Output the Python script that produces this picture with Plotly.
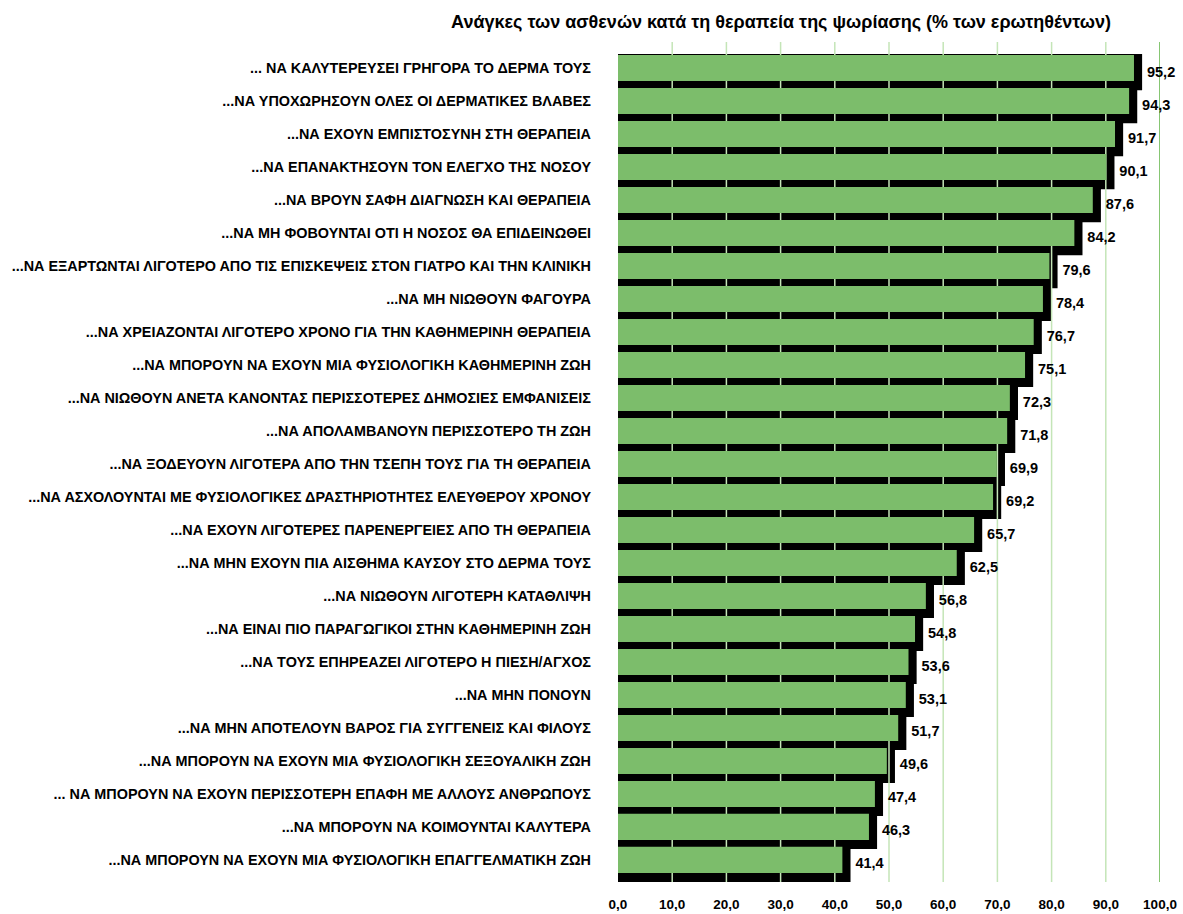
import plotly.graph_objects as go

categories = [
    "... ΝΑ ΚΑΛΥΤΕΡΕΥΣΕΙ ΓΡΗΓΟΡΑ ΤΟ ΔΕΡΜΑ ΤΟΥΣ",
    "...ΝΑ ΥΠΟΧΩΡΗΣΟΥΝ ΟΛΕΣ ΟΙ ΔΕΡΜΑΤΙΚΕΣ ΒΛΑΒΕΣ",
    "...ΝΑ ΕΧΟΥΝ ΕΜΠΙΣΤΟΣΥΝΗ ΣΤΗ ΘΕΡΑΠΕΙΑ",
    "...ΝΑ ΕΠΑΝΑΚΤΗΣΟΥΝ ΤΟΝ ΕΛΕΓΧΟ ΤΗΣ ΝΟΣΟΥ",
    "...ΝΑ ΒΡΟΥΝ ΣΑΦΗ ΔΙΑΓΝΩΣΗ ΚΑΙ ΘΕΡΑΠΕΙΑ",
    "...ΝΑ ΜΗ ΦΟΒΟΥΝΤΑΙ ΟΤΙ Η ΝΟΣΟΣ ΘΑ ΕΠΙΔΕΙΝΩΘΕΙ",
    "...ΝΑ ΕΞΑΡΤΩΝΤΑΙ ΛΙΓΟΤΕΡΟ ΑΠΟ ΤΙΣ ΕΠΙΣΚΕΨΕΙΣ ΣΤΟΝ ΓΙΑΤΡΟ ΚΑΙ ΤΗΝ ΚΛΙΝΙΚΗ",
    "...ΝΑ ΜΗ ΝΙΩΘΟΥΝ ΦΑΓΟΥΡΑ",
    "...ΝΑ ΧΡΕΙΑΖΟΝΤΑΙ ΛΙΓΟΤΕΡΟ ΧΡΟΝΟ ΓΙΑ ΤΗΝ ΚΑΘΗΜΕΡΙΝΗ ΘΕΡΑΠΕΙΑ",
    "...ΝΑ ΜΠΟΡΟΥΝ ΝΑ ΕΧΟΥΝ ΜΙΑ ΦΥΣΙΟΛΟΓΙΚΗ ΚΑΘΗΜΕΡΙΝΗ ΖΩΗ",
    "...ΝΑ ΝΙΩΘΟΥΝ ΑΝΕΤΑ ΚΑΝΟΝΤΑΣ ΠΕΡΙΣΣΟΤΕΡΕΣ ΔΗΜΟΣΙΕΣ ΕΜΦΑΝΙΣΕΙΣ",
    "...ΝΑ ΑΠΟΛΑΜΒΑΝΟΥΝ ΠΕΡΙΣΣΟΤΕΡΟ ΤΗ ΖΩΗ",
    "...ΝΑ ΞΟΔΕΥΟΥΝ ΛΙΓΟΤΕΡΑ ΑΠΟ ΤΗΝ ΤΣΕΠΗ ΤΟΥΣ ΓΙΑ ΤΗ ΘΕΡΑΠΕΙΑ",
    "...ΝΑ ΑΣΧΟΛΟΥΝΤΑΙ ΜΕ ΦΥΣΙΟΛΟΓΙΚΕΣ ΔΡΑΣΤΗΡΙΟΤΗΤΕΣ ΕΛΕΥΘΕΡΟΥ ΧΡΟΝΟΥ",
    "...ΝΑ ΕΧΟΥΝ ΛΙΓΟΤΕΡΕΣ ΠΑΡΕΝΕΡΓΕΙΕΣ ΑΠΟ ΤΗ ΘΕΡΑΠΕΙΑ",
    "...ΝΑ ΜΗΝ ΕΧΟΥΝ ΠΙΑ ΑΙΣΘΗΜΑ ΚΑΥΣΟΥ ΣΤΟ ΔΕΡΜΑ ΤΟΥΣ",
    "...ΝΑ ΝΙΩΘΟΥΝ ΛΙΓΟΤΕΡΗ ΚΑΤΑΘΛΙΨΗ",
    "...ΝΑ ΕΙΝΑΙ ΠΙΟ ΠΑΡΑΓΩΓΙΚΟΙ ΣΤΗΝ ΚΑΘΗΜΕΡΙΝΗ ΖΩΗ",
    "...ΝΑ ΤΟΥΣ ΕΠΗΡΕΑΖΕΙ ΛΙΓΟΤΕΡΟ Η ΠΙΕΣΗ/ΑΓΧΟΣ",
    "...ΝΑ ΜΗΝ ΠΟΝΟΥΝ",
    "...ΝΑ ΜΗΝ ΑΠΟΤΕΛΟΥΝ ΒΑΡΟΣ ΓΙΑ ΣΥΓΓΕΝΕΙΣ ΚΑΙ ΦΙΛΟΥΣ",
    "...ΝΑ ΜΠΟΡΟΥΝ ΝΑ ΕΧΟΥΝ ΜΙΑ ΦΥΣΙΟΛΟΓΙΚΗ ΣΕΞΟΥΑΛΙΚΗ ΖΩΗ",
    "... ΝΑ ΜΠΟΡΟΥΝ ΝΑ ΕΧΟΥΝ ΠΕΡΙΣΣΟΤΕΡΗ ΕΠΑΦΗ ΜΕ ΑΛΛΟΥΣ ΑΝΘΡΩΠΟΥΣ",
    "...ΝΑ ΜΠΟΡΟΥΝ ΝΑ ΚΟΙΜΟΥΝΤΑΙ ΚΑΛΥΤΕΡΑ",
    "...ΝΑ ΜΠΟΡΟΥΝ ΝΑ ΕΧΟΥΝ ΜΙΑ ΦΥΣΙΟΛΟΓΙΚΗ ΕΠΑΓΓΕΛΜΑΤΙΚΗ ΖΩΗ",
]

values = [95.2, 94.3, 91.7, 90.1, 87.6, 84.2, 79.6, 78.4, 76.7, 75.1,
          72.3, 71.8, 69.9, 69.2, 65.7, 62.5, 56.8, 54.8, 53.6, 53.1,
          51.7, 49.6, 47.4, 46.3, 41.4]

tick_values = [0, 10, 20, 30, 40, 50, 60, 70, 80, 90, 100]
tick_labels = ["0,0", "10,0", "20,0", "30,0", "40,0", "50,0",
               "60,0", "70,0", "80,0", "90,0", "100,0"]

title_text = "Ανάγκες των ασθενών κατά τη θεραπεία της ψωρίασης (% των ερωτηθέντων)"

FONT = "Liberation Sans"
GREEN = "#7cbd6b"
GRID = "#c4e5b7"
GRID_END = "#86c673"

n = len(categories)
idx = list(range(n))
value_labels = [f"{v:.1f}".replace(".", ",") for v in values]

y_top = -0.79
y_bot = n - 1 + 0.67
shadow_dx = 1.5
shadow_base = -0.3
label_pad = 0.9

fig = go.Figure()

# black "3D" shadow behind each bar
fig.add_trace(go.Bar(
    y=[i + 0.12 for i in idx],
    x=[v + shadow_dx - shadow_base for v in values],
    base=shadow_base,
    orientation="h",
    width=1.1,
    marker=dict(color="black", line=dict(width=0)),
    hoverinfo="skip",
    showlegend=False,
))

# gridlines drawn above the shadows but below the green bars
gx, gy = [], []
for t in tick_values[1:-1]:
    gx += [t, t, None]
    gy += [y_top, y_bot, None]
fig.add_trace(go.Scatter(x=gx, y=gy, mode="lines",
                         line=dict(color=GRID, width=1.5),
                         hoverinfo="skip", showlegend=False, cliponaxis=False))
fig.add_trace(go.Scatter(x=[tick_values[-1], tick_values[-1]], y=[y_top, y_bot + 0.1],
                         mode="lines", line=dict(color=GRID_END, width=2),
                         hoverinfo="skip", showlegend=False, cliponaxis=False))

# value labels just right of each shadow
fig.add_trace(go.Scatter(
    x=[v + shadow_dx + label_pad for v in values],
    y=[i + 0.15 for i in idx],
    mode="text",
    text=value_labels,
    textposition="middle right",
    textfont=dict(family=FONT, size=14.5, color="black", weight="bold"),
    cliponaxis=False,
    hoverinfo="skip",
    showlegend=False,
))

# green bars on an overlaid axis so they sit above the gridlines
fig.add_trace(go.Bar(
    y=idx,
    x=values,
    orientation="h",
    width=0.79,
    marker=dict(color=GREEN, line=dict(width=0)),
    xaxis="x2",
    yaxis="y",
    hoverinfo="skip",
    showlegend=False,
))

fig.update_layout(
    width=1183,
    height=914,
    margin=dict(l=618, r=23, t=42, b=32, autoexpand=False),
    paper_bgcolor="white",
    plot_bgcolor="white",
    barmode="overlay",
    showlegend=False,
    title=dict(
        text=title_text,
        x=781 / 1183,
        xanchor="center",
        y=1 - 22 / 914,
        yanchor="middle",
        font=dict(family=FONT, size=18, color="black", weight="bold"),
    ),
    xaxis=dict(
        range=[0, 100],
        tickvals=tick_values,
        ticktext=tick_labels,
        showgrid=False,
        zeroline=False,
        showline=False,
        ticks="",
        automargin=False,
        ticklabelstandoff=12,
        tickfont=dict(family=FONT, size=13.5, color="black", weight="bold"),
        fixedrange=True,
    ),
    xaxis2=dict(
        range=[0, 100],
        overlaying="x",
        visible=False,
        automargin=False,
        fixedrange=True,
    ),
    yaxis=dict(
        range=[y_bot, y_top],
        tickvals=idx,
        ticktext=categories,
        showgrid=False,
        zeroline=False,
        showline=False,
        ticks="",
        automargin=False,
        ticklabelstandoff=26,
        tickfont=dict(family=FONT, size=14.4, color="black", weight="bold"),
        fixedrange=True,
    ),
)

fig.write_html("out.html")
